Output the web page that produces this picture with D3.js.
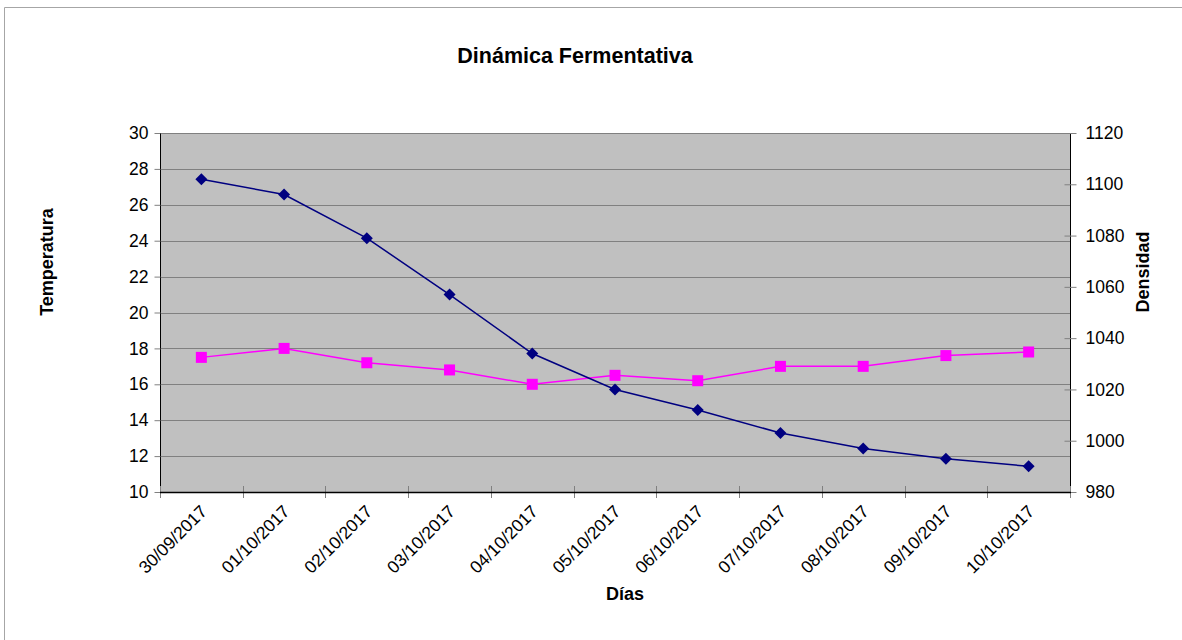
<!DOCTYPE html>
<html><head><meta charset="utf-8">
<script src="https://cdn.jsdelivr.net/npm/d3@7"></script>
<style>
html,body{margin:0;padding:0;background:#fff;}
svg{display:block;font-family:"Liberation Sans",Arial,sans-serif;}
</style></head>
<body><svg id="c" width="1182" height="640"></svg>
<script>
const days = ["30/09/2017","01/10/2017","02/10/2017","03/10/2017","04/10/2017","05/10/2017","06/10/2017","07/10/2017","08/10/2017","09/10/2017","10/10/2017"];
const densidad = [1102,1096,1079,1057,1034,1020,1012,1003,997,993,990];
const temperatura = [17.5,18.0,17.2,16.8,16.0,16.5,16.2,17.0,17.0,17.6,17.8];
const tempTicks = [10,12,14,16,18,20,22,24,26,28,30];
const densTicks = [980,1000,1020,1040,1060,1080,1100,1120];

const svg = d3.select("#c");
const L=160,R=1070,T=133,B=492;
const FS=17.5;

// outer frame
svg.append("path").attr("d","M4.5,640 L4.5,7.5 L1182,7.5").attr("fill","none").attr("stroke","#a6a6a6").attr("stroke-width",1);

const x = d3.scaleBand().domain(days).range([L,R]).padding(0);
const yT = d3.scaleLinear().domain([10,30]).range([B,T]);
const yD = d3.scaleLinear().domain([980,1120]).range([B,T]);

svg.append("rect").attr("x",L).attr("y",T).attr("width",R-L).attr("height",B-T).attr("fill","#c0c0c0");

// gridlines
svg.append("g").selectAll("line").data(tempTicks.filter(d=>d>10)).join("line")
 .attr("x1",L).attr("x2",R).attr("y1",d=>Math.round(yT(d))+0.5).attr("y2",d=>Math.round(yT(d))+0.5)
 .attr("stroke","#808080").attr("stroke-width",1);
// right border black
svg.append("line").attr("x1",R+0.5).attr("x2",R+0.5).attr("y1",T).attr("y2",B).attr("stroke","#000");

// left axis
const gl = svg.append("g").attr("transform",`translate(${L+0.5},0)`)
 .call(d3.axisLeft(yT).tickValues(tempTicks).tickSize(6).tickPadding(6).tickFormat(d3.format("d")));
gl.select(".domain").attr("stroke","#000").attr("d",`M0,${T}V${B}`);
gl.selectAll(".tick line").attr("stroke","#808080");
gl.selectAll(".tick text").attr("font-size",FS).attr("fill","#000").attr("font-family","Liberation Sans, Arial, sans-serif");

// right axis
const gr = svg.append("g").attr("transform",`translate(${R+0.5},0)`)
 .call(d3.axisRight(yD).tickValues(densTicks).tickSize(6).tickPadding(9).tickFormat(d3.format("d")));
gr.select(".domain").attr("stroke","#000").attr("d",`M0,${T}V${B}`);
gr.selectAll(".tick line").attr("stroke","#808080").attr("x1",-6);
gr.selectAll(".tick text").attr("font-size",FS).attr("fill","#000").attr("font-family","Liberation Sans, Arial, sans-serif");

// bottom axis
const bounds = days.map(d=>x(d)).concat([R]);
svg.append("g").selectAll("line").data(bounds).join("line")
 .attr("x1",d=>Math.round(d)+0.5).attr("x2",d=>Math.round(d)+0.5).attr("y1",B-6).attr("y2",B+6)
 .attr("stroke","#808080");
svg.append("line").attr("x1",L).attr("x2",R+1).attr("y1",B+0.5).attr("y2",B+0.5).attr("stroke","#000").attr("stroke-width",1.5);
svg.append("g").selectAll("text").data(days).join("text")
 .attr("transform",d=>`translate(${x(d)+x.bandwidth()/2-2},${B+12}) rotate(-45)`)
 .attr("text-anchor","end").attr("dy","0.7em").attr("font-size",FS).text(d=>d);

// lines
const lineD = d3.line().x((d,i)=>x(days[i])+x.bandwidth()/2).y(d=>yD(d));
const lineT = d3.line().x((d,i)=>x(days[i])+x.bandwidth()/2).y(d=>yT(d));
svg.append("path").attr("d",lineT(temperatura)).attr("fill","none").attr("stroke","#ff00ff").attr("stroke-width",1.5);
svg.append("path").attr("d",lineD(densidad)).attr("fill","none").attr("stroke","#000080").attr("stroke-width",1.5);

// markers
svg.append("g").selectAll("rect").data(temperatura).join("rect")
 .attr("x",(d,i)=>x(days[i])+x.bandwidth()/2-5.5).attr("y",d=>yT(d)-5.5)
 .attr("width",11).attr("height",11).attr("fill","#ff00ff");
svg.append("g").selectAll("path").data(densidad).join("path")
 .attr("transform",(d,i)=>`translate(${x(days[i])+x.bandwidth()/2},${yD(d)})`)
 .attr("d","M0,-6L6,0L0,6L-6,0Z").attr("fill","#000080");

// titles
svg.append("text").attr("x",575).attr("y",63).attr("text-anchor","middle").attr("font-size",21.5).attr("font-weight","bold").text("Dinámica Fermentativa");
svg.append("text").attr("x",625).attr("y",600).attr("text-anchor","middle").attr("font-size",18).attr("font-weight","bold").text("Días");
svg.append("text").attr("transform","translate(53,262) rotate(-90)").attr("text-anchor","middle").attr("font-size",18).attr("font-weight","bold").text("Temperatura");
svg.append("text").attr("transform","translate(1149,272) rotate(-90)").attr("text-anchor","middle").attr("font-size",18).attr("font-weight","bold").text("Densidad");
</script></body></html>
